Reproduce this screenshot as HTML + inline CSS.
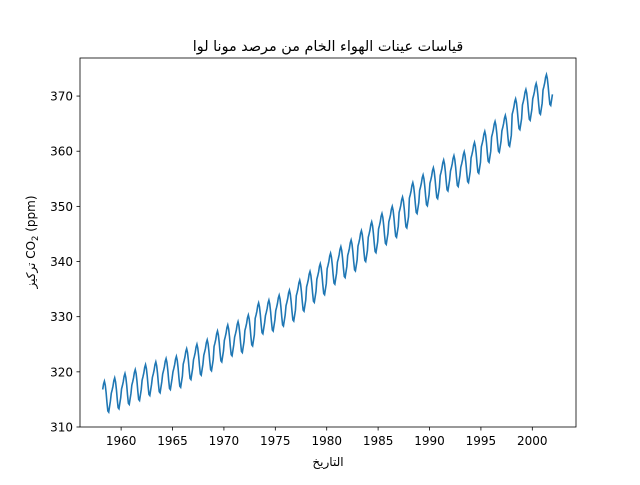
<!DOCTYPE html>
<html><head><meta charset="utf-8"><style>
html,body{margin:0;padding:0;background:#fff;}
svg text{font-family:"DejaVu Sans","Liberation Sans",sans-serif;}
</style></head><body>
<svg id="chart" width="640" height="480" viewBox="0 0 640 480" xmlns="http://www.w3.org/2000/svg">
<rect width="640" height="480" fill="#fff"/>
<text x="328" y="51" font-size="14.4" text-anchor="middle" direction="rtl">قياسات عينات الهواء الخام من مرصد مونا لوا</text>
<g id="plot"></g>
<rect x="80" y="58" width="496" height="369" fill="none" stroke="#000" stroke-width="0.8"/>
<g id="xticks"></g>
<g id="yticks"></g>
<text x="328" y="466" font-size="12" text-anchor="middle" direction="rtl">التاريخ</text>
<text transform="translate(35,242) rotate(-90)" font-size="12" text-anchor="middle">تركيز CO<tspan font-size="8.5" dy="3">2</tspan><tspan dy="-3"> (ppm)</tspan></text>
</svg>
<script>
const years = [1958,1959,1960,1961,1962,1963,1964,1965,1966,1967,1968,1969,1970,1971,1972,1973,1974,1975,1976,1977,1978,1979,1980,1981,1982,1983,1984,1985,1986,1987,1988,1989,1990,1991,1992,1993,1994,1995,1996,1997,1998,1999,2000,2001];
const annualMean = [315.5,316.1,316.9,317.6,318.5,319.0,319.6,320.0,321.4,322.2,323.0,324.6,325.7,326.3,327.5,329.7,330.2,331.1,332.0,333.8,335.4,336.8,338.7,339.9,341.1,342.8,344.4,345.9,347.2,348.9,351.5,352.9,354.2,355.6,356.4,357.1,358.8,360.8,362.6,363.7,366.7,368.4,369.5,371.1];
const seasonal = [0.0,0.6,1.3,2.3,2.8,2.1,0.7,-1.1,-2.6,-2.8,-1.8,-0.8];
const xTicks = [1960,1965,1970,1975,1980,1985,1990,1995,2000];
const yTicks = [310,320,330,340,350,360,370];
const startMonth = 2;

const X0=80,X1=576,Y0=427,Y1=58;
const xMin=1956.0,xMax=2004.25,yMin=310,yMax=376.9;
const sx=v=>X0+(v-xMin)/(xMax-xMin)*(X1-X0);
const sy=v=>Y0-(v-yMin)/(yMax-yMin)*(Y0-Y1);
const NS="http://www.w3.org/2000/svg";

let d="";
years.forEach((y,i)=>{
  seasonal.forEach((s,m)=>{
    if(i===0 && m<startMonth) return;
    const t=y+(m+0.5)/12, v=annualMean[i]+s;
    d+=(d?"L":"M")+sx(t).toFixed(2)+","+sy(v).toFixed(2);
  });
});
const p=document.createElementNS(NS,"path");


p.setAttribute("d",d);p.setAttribute("fill","none");p.setAttribute("stroke","#1f77b4");p.setAttribute("stroke-width","1.6");
document.getElementById("plot").appendChild(p);

const xg=document.getElementById("xticks");
xTicks.forEach(t=>{
  const l=document.createElementNS(NS,"line");
  
  
  l.setAttribute("x1",sx(t));l.setAttribute("x2",sx(t));l.setAttribute("y1",Y0);l.setAttribute("y2",Y0+3.5);l.setAttribute("stroke","#000");l.setAttribute("stroke-width","0.8");
  xg.appendChild(l);
  const tx=document.createElementNS(NS,"text");
  
  
  tx.setAttribute("x",sx(t));tx.setAttribute("y",Y0+18);tx.setAttribute("font-size","12");tx.setAttribute("text-anchor","middle");
  tx.textContent=t;xg.appendChild(tx);
});
const yg=document.getElementById("yticks");
yTicks.forEach(t=>{
  const l=document.createElementNS(NS,"line");
  
  
  l.setAttribute("x1",X0-3.5);l.setAttribute("x2",X0);l.setAttribute("y1",sy(t));l.setAttribute("y2",sy(t));l.setAttribute("stroke","#000");l.setAttribute("stroke-width","0.8");
  yg.appendChild(l);
  const tx=document.createElementNS(NS,"text");
  
  
  tx.setAttribute("x",X0-7);tx.setAttribute("y",sy(t)+4.5);tx.setAttribute("font-size","12");tx.setAttribute("text-anchor","end");
  tx.textContent=t;yg.appendChild(tx);
});
</script>
</body></html>
